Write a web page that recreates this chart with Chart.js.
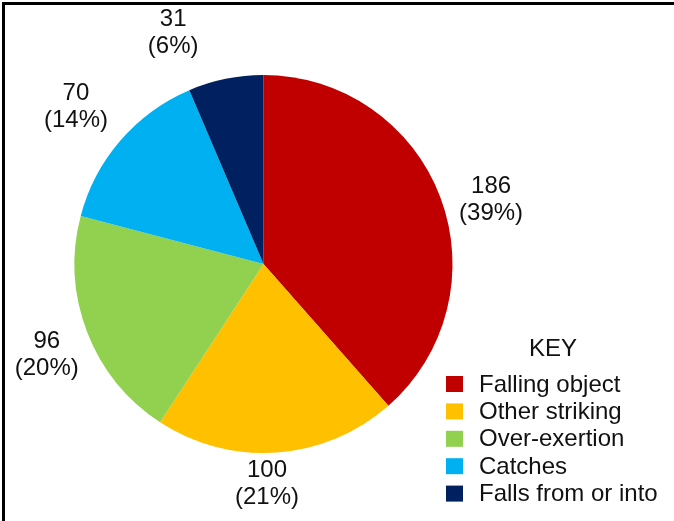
<!DOCTYPE html>
<html>
<head>
<meta charset="utf-8">
<script src="https://cdn.jsdelivr.net/npm/chart.js@4/dist/chart.umd.min.js"></script>
<style>
  html, body { margin: 0; padding: 0; background: #fff; }
  #wrap { width: 674px; height: 521px; position: relative; }
</style>
</head>
<body>
<div id="wrap"><canvas id="c" width="674" height="521"></canvas></div>
<script>
const categories = ["Falling object", "Other striking", "Over-exertion", "Catches", "Falls from or into"];
const values = [186, 100, 96, 70, 31];
const percentLabels = ["(39%)", "(21%)", "(20%)", "(14%)", "(6%)"];
const colors = ["#C00000", "#FFC000", "#92D050", "#00B0F0", "#002060"];

const FONT = "'Liberation Sans', Arial, sans-serif";

const framePlugin = {
  id: 'frame',
  beforeDraw(chart) {
    const ctx = chart.ctx;
    ctx.save();
    ctx.fillStyle = '#fff';
    ctx.fillRect(0, 0, chart.width, chart.height);
    ctx.fillStyle = '#000';
    ctx.fillRect(2, 2, chart.width - 2, 3);
    ctx.fillRect(2, 2, 3, chart.height - 2);
    ctx.restore();
  }
};

const labelPlugin = {
  id: 'sliceLabels',
  afterDatasetsDraw(chart, args, opts) {
    const ctx = chart.ctx;
    const meta = chart.getDatasetMeta(0);
    ctx.save();
    ctx.font = opts.fontSize + "px " + FONT;
    ctx.fillStyle = '#111';
    ctx.textAlign = 'center';
    ctx.textBaseline = 'middle';
    meta.data.forEach((arc, i) => {
      const p = arc.getProps(['x', 'y', 'startAngle', 'endAngle', 'outerRadius'], true);
      const mid = (p.startAngle + p.endAngle) / 2 + (opts.nudge[i] || 0) * Math.PI / 180;
      const d = p.outerRadius + (opts.extra[i] || 0);
      const cx = p.x + Math.cos(mid) * d;
      const cy = p.y + Math.sin(mid) * d;
      const lh = opts.lineHeight;
      ctx.fillText(String(values[i]), cx, cy - lh / 2);
      ctx.fillText(percentLabels[i], cx, cy + lh / 2);
    });
    ctx.restore();
  }
};

const keyPlugin = {
  id: 'keyLegend',
  afterDraw(chart, args, opts) {
    const ctx = chart.ctx;
    ctx.save();
    ctx.font = opts.fontSize + "px " + FONT;
    ctx.fillStyle = '#111';
    ctx.textBaseline = 'middle';
    ctx.textAlign = 'center';
    ctx.fillText(opts.title, opts.titleX, opts.titleY);
    ctx.textAlign = 'left';
    const ds = chart.data.datasets[0];
    chart.data.labels.forEach((lab, i) => {
      const y = opts.y0 + i * opts.rowH;
      ctx.fillStyle = ds.backgroundColor[i];
      ctx.fillRect(opts.x0, y - 8, 17, 16);
      ctx.fillStyle = '#111';
      ctx.fillText(lab, opts.textX, y + 1);
    });
    ctx.restore();
  }
};

new Chart(document.getElementById('c'), {
  type: 'pie',
  data: {
    labels: categories,
    datasets: [{
      data: values,
      backgroundColor: colors,
      borderWidth: 0
    }]
  },
  options: {
    responsive: false,
    animation: false,
    radius: 189,
    layout: { padding: { left: 74, right: 221, top: 75, bottom: 68 } },
    plugins: {
      legend: { display: false },
      tooltip: { enabled: false },
      sliceLabels: {
        fontSize: 24,
        lineHeight: 27,
        extra: [47.5, 31, 46, 55.5, 59],
        nudge: [4.9, 3.2, -1.7, -0.9, -9.8]
      },
      keyLegend: {
        title: 'KEY',
        fontSize: 24,
        titleX: 553,
        titleY: 349,
        x0: 446,
        textX: 479,
        y0: 384,
        rowH: 27.4
      }
    }
  },
  plugins: [framePlugin, labelPlugin, keyPlugin]
});
</script>
</body>
</html>
